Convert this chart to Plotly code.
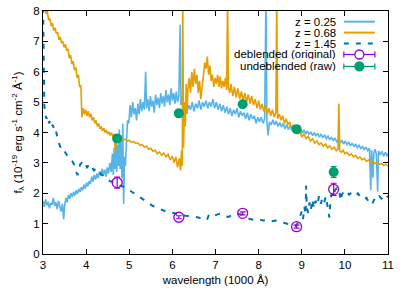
import plotly.graph_objects as go

# ---------------- data ----------------
blue_x = [3.00,3.03,3.06,3.09,3.12,3.15,3.18,3.21,3.24,3.27,3.30,3.33,3.36,3.39,3.42,3.45,3.48,3.50,3.53,3.56,
          3.59,3.62,3.65,3.68,3.71,3.74,3.77,3.80,3.83,3.86,3.89,3.92,3.95,3.98,4.01,4.04,4.07,4.10,4.13,4.16,
          4.19,4.22,4.25,4.28,4.31,4.34,4.37,4.40,4.43,4.46,4.49,4.52,4.55,4.58,4.61,4.63,4.65,4.67,4.69,4.71,
          4.73,4.75,4.77,4.79,4.81,4.83,4.85,4.87,4.89,4.91,4.93,4.96,4.99,5.02,5.05,5.08,5.11,5.14,5.17,5.20,
          5.23,5.26,5.29,5.32,5.35,5.38,5.40,5.43,5.46,5.49,5.52,5.55,5.58,5.61,5.64,5.67,5.70,5.73,5.76,5.79,
          5.82,5.85,5.88,5.91,5.94,5.97,6.00,6.03,6.06,6.09,6.12,6.15,6.18,6.20,6.23,6.26,6.30,6.34,6.38,6.42,
          6.46,6.50,6.54,6.58,6.62,6.66,6.70,6.74,6.78,6.82,6.86,6.90,6.94,6.98,7.02,7.06,7.10,7.14,7.18,7.22,
          7.26,7.30,7.34,7.38,7.42,7.46,7.50,7.54,7.58,7.62,7.66,7.70,7.74,7.78,7.82,7.86,7.90,7.94,7.98,8.02,
          8.06,8.10,8.14,8.17,8.19,8.22,8.25,8.29,8.33,8.37,8.41,8.45,8.49,8.53,8.57,8.61,8.65,8.69,8.73,8.77,
          8.81,8.85,8.89,8.93,8.97,9.01,9.05,9.09,9.13,9.17,9.21,9.25,9.29,9.33,9.37,9.41,9.45,9.49,9.53,9.57,
          9.61,9.65,9.69,9.73,9.77,9.81,9.85,9.89,9.93,9.97,10.01,10.05,10.09,10.13,10.17,10.21,10.25,10.29,10.33,10.37,
          10.41,10.45,10.49,10.53,10.57,10.60,10.62,10.65,10.67,10.70,10.73,10.76,10.78,10.82,10.86,10.90,10.94,10.98,11.00]
blue_y = [1.75,1.55,1.80,1.60,1.72,1.50,1.68,1.62,1.85,1.58,1.70,1.48,1.75,1.55,1.40,1.65,1.15,1.55,1.85,1.70,
          1.95,1.82,2.00,1.88,2.05,1.92,2.10,1.98,2.15,2.05,2.20,2.10,2.28,2.15,2.35,2.22,2.40,2.30,2.55,2.38,
          2.60,2.45,2.65,2.50,2.72,2.58,2.80,2.62,2.78,2.55,2.85,2.65,3.00,2.70,3.30,2.60,3.50,2.80,3.80,2.70,
          3.60,2.90,4.10,2.80,3.90,2.50,4.30,1.65,3.20,2.90,3.60,4.40,4.30,4.90,4.50,5.00,4.60,4.80,4.40,4.95,
          4.60,5.10,4.70,5.00,4.75,6.00,4.80,5.10,4.70,5.20,4.85,5.05,4.65,5.25,4.90,5.15,4.80,5.30,4.95,5.20,
          4.85,5.40,5.00,5.25,4.90,5.45,5.05,5.30,4.95,5.35,5.00,5.20,7.55,4.90,5.20,4.80,4.95,4.70,4.90,4.75,
          5.00,4.70,4.95,4.80,5.05,4.75,5.00,4.85,5.05,4.80,5.00,4.85,5.10,4.80,5.00,4.75,4.95,4.70,4.90,4.65,
          4.85,4.60,4.80,4.55,4.75,4.60,4.80,4.50,4.70,4.55,4.65,4.45,4.65,4.40,4.60,4.45,4.55,4.30,4.50,4.35,
          4.50,4.30,4.45,8.50,4.40,3.90,4.35,4.25,4.42,4.25,4.38,4.20,4.33,4.18,4.30,4.12,4.26,4.10,4.22,4.08,
          4.18,4.05,4.16,4.02,4.12,3.98,4.08,3.95,4.05,3.93,4.02,3.90,4.00,3.88,3.97,3.85,3.95,3.82,3.92,3.80,
          3.88,3.76,3.85,3.73,3.82,3.70,3.78,3.66,3.75,3.62,3.72,3.60,3.68,3.56,3.65,3.53,3.62,3.50,3.58,3.46,
          3.55,3.43,3.52,3.40,3.48,2.10,3.42,2.50,3.32,3.45,3.28,2.05,3.40,3.26,3.38,3.22,3.35,3.22,3.30]

orange_x = [3.04,3.07,3.10,3.13,3.16,3.19,3.22,3.25,3.28,3.31,3.34,3.37,3.40,3.43,3.46,3.49,3.52,3.55,3.58,3.61,
            3.64,3.67,3.70,3.73,3.76,3.79,3.82,3.85,3.88,3.90,3.93,3.96,3.99,4.02,4.05,4.08,4.11,4.14,4.17,4.20,
            4.23,4.26,4.29,4.32,4.35,4.38,4.41,4.44,4.47,4.50,4.53,4.56,4.59,4.62,4.65,4.68,4.70,4.73,4.76,4.79,
            4.82,4.86,4.90,4.95,5.00,5.05,5.10,5.15,5.20,5.25,5.30,5.35,5.40,5.45,5.50,5.55,5.60,5.65,5.70,5.75,
            5.80,5.85,5.90,5.95,6.00,6.04,6.08,6.12,6.16,6.19,6.21,6.23,6.24,6.26,6.28,6.30,6.32,6.34,6.36,6.39,
            6.42,6.45,6.48,6.51,6.54,6.57,6.60,6.63,6.66,6.69,6.72,6.75,6.78,6.81,6.84,6.87,6.90,6.93,6.96,6.99,
            7.02,7.05,7.08,7.11,7.14,7.17,7.20,7.23,7.26,7.28,7.30,7.33,7.36,7.40,7.44,7.48,7.52,7.56,7.60,7.64,
            7.68,7.72,7.76,7.80,7.84,7.88,7.92,7.96,8.00,8.04,8.08,8.12,8.16,8.20,8.24,8.28,8.32,8.36,8.40,8.42,
            8.44,8.48,8.52,8.56,8.60,8.64,8.68,8.72,8.76,8.80,8.84,8.88,8.92,8.96,9.00,9.05,9.10,9.15,9.20,9.25,
            9.30,9.35,9.40,9.45,9.50,9.55,9.60,9.65,9.70,9.75,9.80,9.84,9.86,9.88,9.92,9.96,10.00,10.05,10.10,10.15,
            10.20,10.25,10.30,10.35,10.40,10.45,10.50,10.55,10.60,10.65,10.70,10.75,10.80,10.85,10.90,10.95,11.00]
orange_y = [8.30,7.90,8.00,7.70,7.75,7.50,7.60,7.35,7.45,7.25,7.30,7.05,7.15,6.95,7.00,6.80,6.90,6.70,6.75,6.45,
            6.55,6.25,6.35,6.05,6.15,5.80,5.90,5.50,5.55,4.50,4.80,4.60,4.75,4.55,4.70,4.50,4.62,4.40,4.50,4.30,
            4.40,4.20,4.30,4.12,4.20,4.05,4.15,4.00,4.08,3.95,4.02,3.90,4.00,3.85,3.95,3.35,3.90,3.75,3.85,3.70,
            3.80,3.75,3.78,3.72,3.74,3.68,3.70,3.64,3.66,3.58,3.60,3.52,3.55,3.45,3.48,3.38,3.42,3.30,3.36,3.25,
            3.32,3.20,3.28,3.10,3.22,3.00,3.20,2.85,3.15,2.75,3.40,2.90,8.50,3.50,5.00,4.20,5.60,4.60,5.40,5.80,
            5.30,6.00,5.50,6.10,5.60,5.90,5.30,5.70,5.10,5.50,5.80,6.30,6.10,6.50,5.90,6.20,5.70,5.90,5.50,5.80,
            5.60,5.90,5.50,5.85,5.45,5.70,5.50,5.80,5.40,8.50,5.50,5.30,5.60,5.20,5.50,5.15,5.45,5.10,5.35,5.05,
            5.30,5.00,5.25,4.95,5.20,4.90,5.10,4.80,5.05,4.75,4.95,4.70,4.90,4.60,4.80,4.55,4.75,4.50,4.65,8.50,
            4.45,4.60,4.40,4.55,4.30,4.45,4.25,4.35,4.15,4.25,4.05,4.15,3.95,4.05,3.85,3.95,3.80,3.88,3.72,3.80,
            3.65,3.72,3.60,3.66,3.55,3.62,3.50,3.56,3.45,3.52,3.40,3.45,4.95,3.40,3.35,3.42,3.30,3.35,3.25,3.30,
            3.20,3.25,3.15,3.20,3.10,3.15,3.05,3.10,3.00,3.05,2.98,3.02,2.95,2.98,2.92,2.95,2.90]

dash_x = [3.00,3.01,3.02,3.03,3.05,3.08,3.11,3.14,3.17,3.20,3.23,3.26,3.29,3.32,3.35,3.38,3.41,3.44,3.47,3.50,
          3.53,3.56,3.60,3.64,3.68,3.72,3.76,3.80,3.83,3.86,3.90,3.94,3.98,4.02,4.06,4.10,4.14,4.18,4.22,4.26,
          4.30,4.35,4.40,4.45,4.50,4.55,4.60,4.65,4.70,4.75,4.80,4.85,4.90,4.95,5.00,5.05,5.10,5.15,5.20,5.25,
          5.30,5.35,5.40,5.45,5.50,5.55,5.60,5.65,5.70,5.75,5.80,5.85,5.90,5.95,6.00,6.05,6.10,6.20,6.30,6.40,
          6.50,6.60,6.70,6.80,6.85,6.90,7.00,7.10,7.20,7.30,7.40,7.50,7.60,7.70,7.80,7.90,8.00,8.10,8.20,8.30,
          8.40,8.50,8.60,8.70,8.80,8.85,8.90,8.95,9.00,9.03,9.06,9.09,9.10,9.12,9.15,9.18,9.21,9.25,9.28,9.32,
          9.36,9.40,9.44,9.48,9.52,9.56,9.60,9.64,9.67,9.70,9.73,9.77,9.80,9.83,9.87,9.90,9.93,9.97,10.00,10.05,
          10.10,10.15,10.20,10.25,10.30,10.35,10.40,10.45,10.50,10.55,10.60,10.65,10.70,10.75,10.80,10.85,10.90,10.95,11.00]
dash_y = [8.50,6.50,5.50,4.90,4.60,4.45,4.55,4.30,4.40,4.20,4.25,4.05,4.10,3.90,3.75,3.60,3.50,3.42,3.35,3.38,
          3.30,3.25,3.20,3.15,3.05,2.95,2.75,2.60,2.70,2.95,3.00,2.92,2.98,2.85,2.92,2.80,2.85,2.75,2.80,2.70,
          2.72,2.62,2.58,2.50,2.45,2.40,2.38,2.32,2.30,2.28,2.25,2.22,2.20,2.15,2.10,2.05,2.00,1.95,1.90,1.85,
          1.80,1.75,1.72,1.68,1.62,1.58,1.55,1.52,1.48,1.46,1.44,1.40,1.40,1.38,1.36,1.33,1.30,1.28,1.26,1.25,
          1.24,1.20,1.15,1.12,1.30,1.25,1.28,1.32,1.25,1.22,1.30,1.32,1.30,1.20,1.15,1.12,1.15,1.10,1.12,1.08,
          1.10,1.05,1.02,0.98,0.95,0.92,1.00,1.20,1.40,1.15,1.55,1.30,2.25,1.50,1.35,1.70,1.45,1.80,1.50,1.75,
          1.60,1.90,1.65,1.85,1.70,1.90,1.60,1.20,1.85,2.00,1.90,2.10,2.15,2.05,2.10,1.75,1.95,2.05,2.00,2.05,
          1.95,2.02,1.98,1.92,2.00,1.90,1.88,1.80,1.85,1.72,1.80,1.70,1.85,1.80,1.90,1.82,1.88,1.80,1.92]

phot_x = [4.72, 6.15, 7.63, 8.88, 9.74]
deb_y = [2.35, 1.21, 1.34, 0.90, 2.13]
deb_err = [0.18, 0.05, 0.05, 0.05, 0.20]
raw_y = [3.80, 4.63, 4.93, 4.11, 2.70]
raw_err = [0.05, 0.05, 0.05, 0.05, 0.18]

x_ticks = [3, 4, 5, 6, 7, 8, 9, 10, 11]
y_ticks = [0, 1, 2, 3, 4, 5, 6, 7, 8]

labels = ["z = 0.25", "z = 0.68", "z = 1.45", "deblended (original)", "undeblended (raw)"]
C_LB, C_OR, C_DB, C_PU, C_GR = "#56B4E9", "#E69F00", "#0072B2", "#9400D3", "#009E73"

FONT = "Liberation Sans, Arial, sans-serif"
FS = 11.5

fig = go.Figure()
fig.add_trace(go.Scatter(x=blue_x, y=blue_y, mode="lines", line=dict(color=C_LB, width=1.6), showlegend=False))
fig.add_trace(go.Scatter(x=orange_x, y=orange_y, mode="lines", line=dict(color=C_OR, width=1.6), showlegend=False))
fig.add_trace(go.Scatter(x=dash_x, y=dash_y, mode="lines",
                         line=dict(color=C_DB, width=2, dash="5px,7px"), showlegend=False))
fig.add_trace(go.Scatter(x=phot_x, y=deb_y, mode="markers",
                         marker=dict(symbol="circle-open", size=10, color=C_PU, line=dict(width=1.3)),
                         error_y=dict(type="data", array=deb_err, color=C_PU, thickness=1.2, width=3),
                         showlegend=False))
fig.add_trace(go.Scatter(x=phot_x, y=raw_y, mode="markers",
                         marker=dict(symbol="circle", size=10, color=C_GR),
                         error_y=dict(type="data", array=raw_err, color=C_GR, thickness=1.2, width=3),
                         showlegend=False))

# ---------- gnuplot-style key (text right, sample on the right) ----------
row_y = [0.956, 0.911, 0.866, 0.821, 0.772]
tx, sx0, sx1, sxm = 0.852, 0.872, 0.962, 0.917
styles = [(C_LB, "solid", 2), (C_OR, "solid", 2), (C_DB, "5px,7px", 2), (C_PU, "solid", 1.2), (C_GR, "solid", 1.2)]
shapes = []
annotations = []
for i, (lab, yy, (col, dash, w)) in enumerate(zip(labels, row_y, styles)):
    annotations.append(dict(x=tx, y=yy, xref="paper", yref="paper", text=lab, showarrow=False,
                            xanchor="right", yanchor="middle", height=10, borderpad=0,
                            font=dict(family=FONT, size=FS, color="black")))
    shapes.append(dict(type="line", xref="paper", yref="paper", x0=sx0, x1=sx1, y0=yy, y1=yy,
                       line=dict(color=col, width=w, dash=dash)))
    if i >= 3:
        for xe in (sx0, sx1):
            shapes.append(dict(type="line", xref="paper", yref="paper", xsizemode="pixel", ysizemode="pixel",
                               xanchor=xe, yanchor=yy, x0=0, x1=0, y0=-3, y1=3, line=dict(color=col, width=1.2)))
        shapes.append(dict(type="circle", xref="paper", yref="paper", xsizemode="pixel", ysizemode="pixel",
                           xanchor=sxm, yanchor=yy, x0=-4.5, x1=4.5, y0=-4.5, y1=4.5,
                           line=dict(color=col, width=1.3),
                           fillcolor=("white" if i == 3 else col)))

axis_common = dict(showline=True, linecolor="black", linewidth=1, mirror="ticks", ticks="inside",
                   ticklen=5, tickcolor="black", showgrid=False, zeroline=False, automargin=False,
                   tickfont=dict(family=FONT, size=FS, color="black"))

fig.update_layout(
    width=415, height=291,
    margin=dict(l=43, r=27, t=11, b=37),
    paper_bgcolor="white", plot_bgcolor="white",
    font=dict(family=FONT, size=FS, color="black"),
    xaxis=dict(range=[3, 11], tickvals=x_ticks, ticktext=[str(v) for v in x_ticks],
               title=dict(text="wavelength (1000 Å)", standoff=6, font=dict(family=FONT, size=FS)),
               **axis_common),
    yaxis=dict(range=[0, 8], tickvals=y_ticks, ticktext=[str(v) for v in y_ticks],
               title=dict(text="f<sub>λ</sub> (10<sup>-19</sup> erg s<sup>-1</sup> cm<sup>-2</sup> Å<sup>-1</sup>)",
                          standoff=8, font=dict(family=FONT, size=FS)),
               **axis_common),
    shapes=shapes, annotations=annotations,
)

fig.write_html("out.html", config={"displayModeBar": False},
               post_script="document.body.style.margin='0';document.body.style.overflow='hidden';")
